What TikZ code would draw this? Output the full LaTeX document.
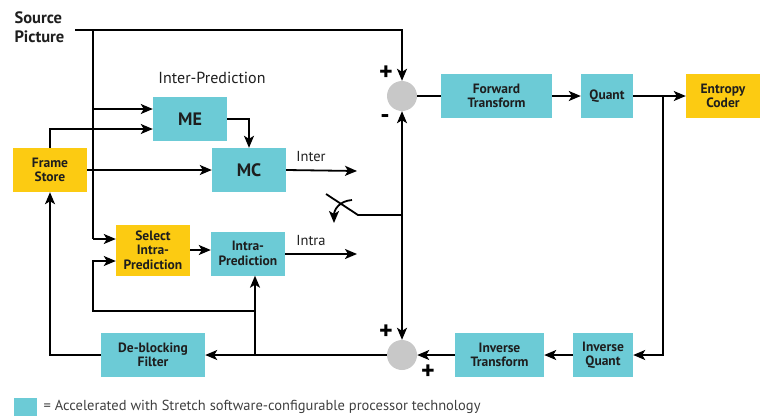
\documentclass[tikz,border=0pt]{standalone}
\usepackage{fontspec}
\setmainfont{PT Sans}
\usetikzlibrary{arrows.meta}
\definecolor{accel}{HTML}{6CCBD6}
\definecolor{ctrl}{HTML}{FCCB12}
\definecolor{sumgray}{HTML}{C8C8C8}
\definecolor{ink}{HTML}{1E1E1E}

\begin{document}
\begin{tikzpicture}[x=1pt,y=-1pt,
  box/.style={rectangle,inner sep=0pt,align=center,text=ink,
    font=\bfseries\fontsize{13.5}{14.5}\selectfont,
    minimum width=74pt,minimum height=44pt},
  accelbox/.style={box,fill=accel},
  ctrlbox/.style={box,fill=ctrl},
  sum/.style={circle,fill=sumgray,minimum size=30pt,inner sep=0pt},
  wire/.style={line width=1.8pt},
  arr/.style={wire,-{Stealth[length=12pt,width=10pt,inset=3pt]}},
  lbl/.style={text=ink,font=\fontsize{14.5}{16}\selectfont},
  sign/.style={font=\bfseries\fontsize{26}{26}\selectfont}]
\useasboundingbox (0,0) rectangle (760,416);

% blocks
\node[ctrlbox] (fs) at (50,170) {Frame\\Store};
\node[accelbox,font=\bfseries\fontsize{18}{18}\selectfont] (me) at (190,119) {ME};
\node[accelbox,font=\bfseries\fontsize{18}{18}\selectfont] (mc) at (249,170) {MC};
\node[ctrlbox,minimum height=51pt] (sel) at (153,250) {Select\\Intra-\\Prediction};
\node[accelbox] (intra) at (248,253.5) {Intra-\\Prediction};
\node[accelbox,minimum width=104pt] (dbf) at (153,355) {De-blocking\\Filter};
\node[sum] (sum1) at (402,96) {};
\node[sum] (sum2) at (402,355) {};
\node[accelbox,minimum width=111pt] (ft) at (496.5,96) {Forward\\Transform};
\node[accelbox,minimum width=52pt] (q) at (607,96) {Quant};
\node[ctrlbox] (ec) at (723,96) {Entropy\\Coder};
\node[accelbox,minimum width=60pt] (iq) at (603,355) {Inverse\\Quant};
\node[accelbox,minimum width=89pt] (it) at (499.5,355) {Inverse\\Transform};

% texts
\node[anchor=north west,align=left,text=ink,font=\bfseries\fontsize{16.5}{19}\selectfont] (src) at (11,8) {Source\\Picture};
\node[lbl,font=\fontsize{16}{16}\selectfont] (title) at (212,78) {Inter-Prediction};
\node[lbl] (linter) at (311,157) {Inter};
\node[lbl] (lintra) at (311,241) {Intra};
\node[sign] (p1) at (386,73) {+};
\node[sign] (m1) at (385,119) {-};
\node[sign] (p2) at (386,332) {+};
\node[sign] (p3) at (428,372) {+};

% taps
\coordinate (s0) at (75,30);
\coordinate (s1) at (93,30);
\coordinate (s2) at (93,109);
\coordinate (s3) at (93,239);
\coordinate (jn) at (402,215);
\coordinate (sw) at (358,215);
\coordinate (swtip) at (326,194);
\coordinate (qtap) at (663,96);
\coordinate (b1) at (255,355);
\coordinate (b2) at (255,311);
\coordinate (interend) at (357,171);
\coordinate (intraend) at (357,254);

% connectors
\draw[arr] (s0) -| (sum1.north);
\draw[wire] (s1) -- (s3);
\draw[arr] (s2) -- (s2 -| me.west);
\draw[arr] (s3) -- (s3 -| sel.west);
\draw[arr] (fs.north) |- ([yshift=-10pt]me.west);
\draw[arr] (fs.east) -- (fs.east -| mc.west);
\draw[arr] (me.east) -| (mc.north);
\draw[arr] (mc.east) -- (interend);
\draw[arr] (sel.east) -- (sel.east -| intra.west);
\draw[arr] (intra.east |- intraend) -- (intraend);
\draw[wire] (jn) -- (sw) -- (swtip);
\draw[arr] (352,200) .. controls (339,201) and (334,210) .. (334,223);
\draw[arr] (jn) -- (sum1.south);
\draw[arr] (jn) -- (sum2.north);
\draw[wire] (sum1.east) -- (ft.west);
\draw[arr] (ft.east) -- (q.west);
\draw[arr] (q.east) -- (ec.west);
\draw[arr] (qtap) |- (iq.east);
\draw[arr] (iq.west) -- (it.east);
\draw[arr] (it.west) -- (sum2.east);
\draw[arr] (sum2.west) -- (dbf.east);
\draw[arr] (dbf.west) -| (fs.south);
\draw[arr] (b1) -- (b1 |- intra.south);
\draw[arr] (b2) -- (93,311) |- ([yshift=-11pt]sel.west);

% key
\node[fill=accel,minimum width=23pt,minimum height=18pt,inner sep=0pt] (key) at (25.5,406.5) {};
\node[anchor=west,text=ink!85,font=\fontsize{14.5}{16}\selectfont] (keytxt) at ([xshift=3pt]key.east) {= Accelerated with Stretch software-configurable processor technology};
\end{tikzpicture}
\end{document}
